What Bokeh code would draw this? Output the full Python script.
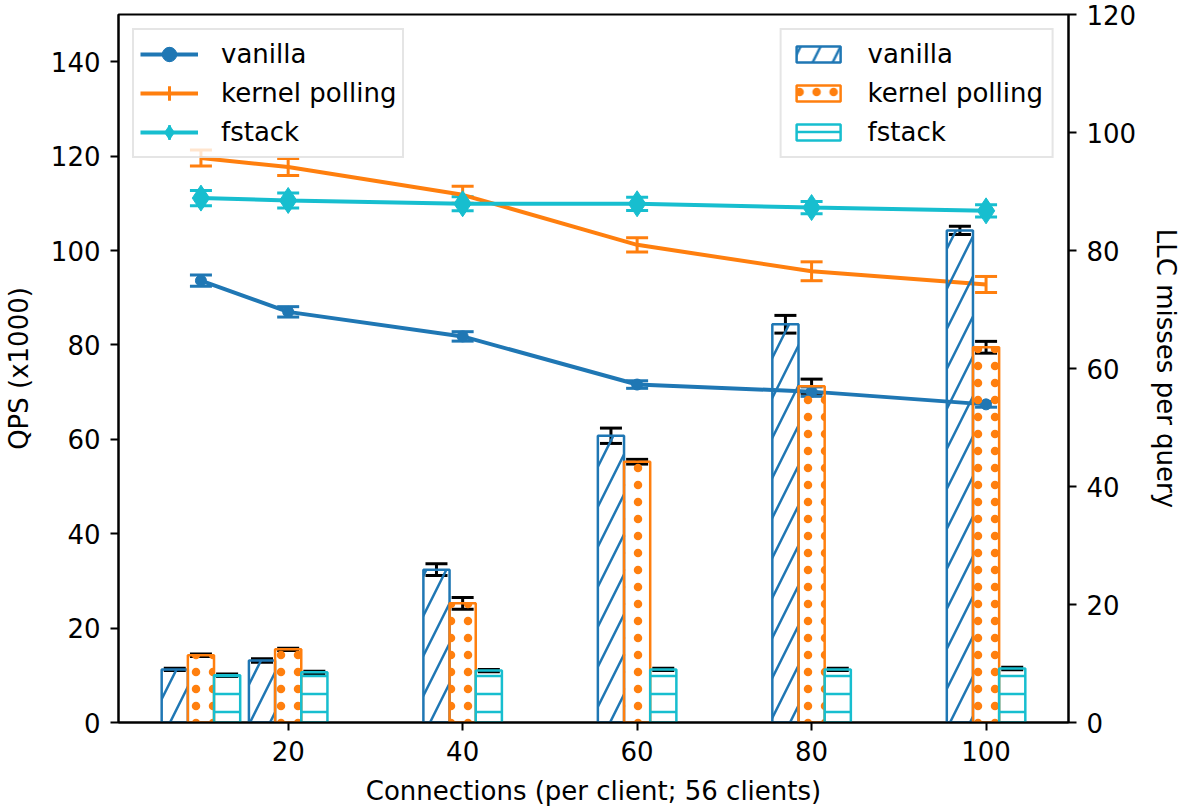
import numpy as np
from bokeh.plotting import figure
from bokeh.models import (ColumnDataSource, Range1d, LinearAxis, FixedTicker, Whisker,
                          TeeHead, Legend, LegendItem)
from bokeh.embed import file_html
from bokeh.resources import INLINE

# ---------------- data ----------------
connections = [10, 20, 40, 60, 80, 100]

qps_vanilla = [93.6, 87.0, 81.8, 71.6, 70.1, 67.4]
qps_vanilla_err = [1.2, 1.1, 1.0, 0.8, 1.0, 0.6]
qps_kpoll = [119.6, 117.7, 111.8, 101.2, 95.6, 92.8]
qps_kpoll_err = [1.7, 1.8, 1.8, 1.5, 2.0, 1.7]
qps_fstack = [111.1, 110.6, 109.9, 109.9, 109.1, 108.4]
qps_fstack_err = [1.6, 1.6, 1.5, 1.4, 1.3, 1.3]

llc_vanilla = [9.0, 10.5, 25.9, 48.6, 67.5, 83.4]
llc_vanilla_err = [0.2, 0.3, 1.0, 1.3, 1.5, 0.7]
llc_kpoll = [11.4, 12.4, 20.2, 44.2, 57.0, 63.6]
llc_kpoll_err = [0.2, 0.2, 1.0, 0.4, 1.2, 1.0]
llc_fstack = [8.0, 8.5, 8.8, 9.0, 9.0, 9.15]
llc_fstack_err = [0.2, 0.2, 0.2, 0.2, 0.2, 0.2]

series_names = ["vanilla", "kernel polling", "fstack"]
x_ticks = [20, 40, 60, 80, 100]
left_ticks = [0, 20, 40, 60, 80, 100, 120, 140]
right_ticks = [0, 20, 40, 60, 80, 100, 120]

BLUE, ORANGE, CYAN = "#1f77b4", "#ff7f0e", "#17becf"
FONT = "DejaVu Sans"
FS = "26px"
bar_w = 3
offsets = [-bar_w, 0, bar_w]

p = figure(output_backend="svg", toolbar_location=None,
           x_range=Range1d(0.55, 109.45), y_range=Range1d(0, 150),
           frame_width=950, frame_height=708,
           min_border_left=113, min_border_top=14, min_border_right=100, min_border_bottom=76)
p.extra_y_ranges = {"llc": Range1d(0, 120)}
p.xgrid.visible = False
p.ygrid.visible = False
p.outline_line_color = "black"
p.outline_line_width = 2
p.background_fill_color = "white"
p.border_fill_color = "white"

right_axis = LinearAxis(y_range_name="llc", axis_label="LLC misses per query")
p.add_layout(right_axis, "right")

p.xaxis.axis_label = "Connections (per client; 56 clients)"
p.yaxis[0].axis_label = "QPS (x1000)"
p.xaxis.ticker = FixedTicker(ticks=x_ticks)
p.yaxis[0].ticker = FixedTicker(ticks=left_ticks)
right_axis.ticker = FixedTicker(ticks=right_ticks)

for ax in [p.xaxis[0], p.yaxis[0], right_axis]:
    ax.axis_line_width = 2
    ax.axis_line_color = "black"
    ax.major_tick_line_width = 2
    ax.major_tick_line_color = "black"
    ax.major_tick_out = 8
    ax.major_tick_in = 0
    ax.minor_tick_out = 0
    ax.minor_tick_in = 0
    ax.major_label_text_font = FONT
    ax.major_label_text_font_size = FS
    ax.major_label_text_color = "black"
    ax.axis_label_text_font = FONT
    ax.axis_label_text_font_size = FS
    ax.axis_label_text_font_style = "normal"
    ax.axis_label_text_color = "black"
    ax.major_label_standoff = 10
p.xaxis.axis_label_standoff = 12
p.yaxis[0].axis_label_standoff = 14
right_axis.axis_label_standoff = 12

# ---------------- lines with error bars (left axis) ----------------
line_items = []
line_specs = [
    (qps_vanilla, qps_vanilla_err, BLUE, "circle", 11),
    (qps_kpoll, qps_kpoll_err, ORANGE, None, 0),
    (qps_fstack, qps_fstack_err, CYAN, "diamond", 26),
]
for name, (vals, errs, col, mk, ms) in zip(series_names, line_specs):
    src = ColumnDataSource(dict(x=connections, y=vals,
                                lo=[v - e for v, e in zip(vals, errs)],
                                hi=[v + e for v, e in zip(vals, errs)]))
    rs = []
    rs.append(p.line("x", "y", source=src, line_color=col, line_width=4))
    wh = Whisker(source=src, base="x", lower="lo", upper="hi", dimension="height",
                 line_color=col, line_width=3,
                 lower_head=TeeHead(size=22, line_color=col, line_width=3),
                 upper_head=TeeHead(size=22, line_color=col, line_width=3))
    p.add_layout(wh)
    # legend-only error-bar stroke (no y values -> nothing drawn inside the plot)
    leg_src = ColumnDataSource(dict(x=np.array(connections, dtype=float),
                                    y=np.full(len(connections), np.nan)))
    leg_err = p.scatter("x", "y", source=leg_src, marker="cross", size=28,
                        line_color=col, line_width=3)
    rs.append(leg_err)
    if mk:
        rs.append(p.scatter("x", "y", source=src, marker=mk, size=ms,
                            fill_color=col, line_color=col))
    line_items.append(LegendItem(label=name, renderers=rs))

# ---------------- bars with error bars (right axis) ----------------
bar_items = []
bar_specs = [
    (llc_vanilla, llc_vanilla_err, BLUE, "/", 40),
    (llc_kpoll, llc_kpoll_err, ORANGE, ".", 17),
    (llc_fstack, llc_fstack_err, CYAN, "-", 18),
]
for name, off, (vals, errs, col, hp, hs) in zip(series_names, offsets, bar_specs):
    xs = [c + off for c in connections]
    src = ColumnDataSource(dict(x=xs, top=vals,
                                lo=[v - e for v, e in zip(vals, errs)],
                                hi=[v + e for v, e in zip(vals, errs)]))
    r = p.vbar(x="x", top="top", bottom=0, width=bar_w, source=src, y_range_name="llc",
               fill_color=None, line_color=col, line_width=2.5,
               hatch_pattern=hp, hatch_color=col, hatch_scale=hs, hatch_weight=2.5)
    bar_items.append(LegendItem(label=name, renderers=[r]))
    wh = Whisker(source=src, base="x", lower="lo", upper="hi", dimension="height",
                 y_range_name="llc", line_color="black", line_width=3,
                 lower_head=TeeHead(size=22, line_color="black", line_width=3),
                 upper_head=TeeHead(size=22, line_color="black", line_width=3))
    p.add_layout(wh)

def style_legend(lg, gw, gh, lh, sp, pad, so):
    lg.label_text_font = FONT
    lg.label_text_font_size = FS
    lg.label_text_color = "black"
    lg.glyph_width = gw
    lg.glyph_height = gh
    lg.label_height = lh
    lg.spacing = sp
    lg.padding = pad
    lg.margin = 14
    lg.label_standoff = so
    lg.border_line_color = "#cccccc"
    lg.border_line_width = 2
    lg.background_fill_color = "white"
    lg.background_fill_alpha = 0.8

leg1 = Legend(items=line_items, location="top_left")
style_legend(leg1, 58, 36, 36, 3, 6, 23)
leg2 = Legend(items=bar_items, location="top_right")
style_legend(leg2, 55, 20, 20, 9, 9, 22)
p.add_layout(leg1)
p.add_layout(leg2)

open("out.html", "w").write(file_html(p, INLINE))
